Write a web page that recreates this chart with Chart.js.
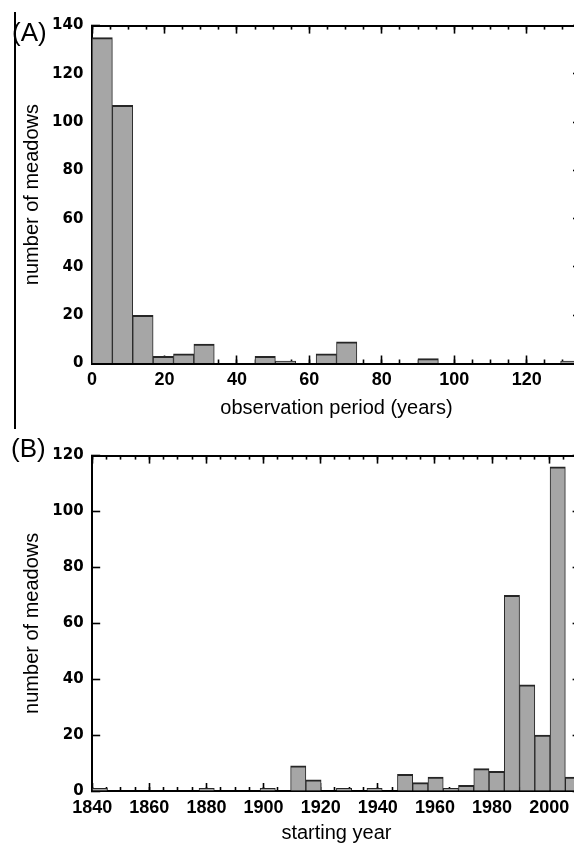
<!DOCTYPE html>
<html>
<head>
<meta charset="utf-8">
<script src="https://cdn.jsdelivr.net/npm/chart.js@4.4.1/dist/chart.umd.min.js"></script>
<style>
html,body{margin:0;padding:0;background:#fff;overflow:hidden;width:574px;height:845px;}
#wrapA{position:absolute;left:0;top:0;width:620px;height:430px;}
#wrapB{position:absolute;left:0;top:430px;width:620px;height:415px;}
.panel{position:absolute;font-family:'Liberation Sans',Arial,sans-serif;font-size:26px;line-height:26px;color:#000;white-space:nowrap;}
#rule{position:absolute;left:14px;top:12px;width:1.5px;height:417px;background:#000;}
</style>
</head>
<body>
<div id="wrapA"><canvas id="chartA" width="620" height="430"></canvas></div>
<div id="wrapB"><canvas id="chartB" width="620" height="415"></canvas></div>
<div id="rule"></div>
<div class="panel" style="left:12px;top:18.5px">(A)</div>
<div class="panel" style="left:11px;top:434.5px">(B)</div>
<script>
// ---- Panel A: observation period histogram ----
const periodBinCenters = [2.8125, 8.4375, 14.0625, 19.6875, 25.3125, 30.9375, 36.5625, 42.1875,
  47.8125, 53.4375, 59.0625, 64.6875, 70.3125, 75.9375, 81.5625, 87.1875, 92.8125, 98.4375,
  104.0625, 109.6875, 115.3125, 120.9375, 126.5625, 132.1875];
const periodCounts = [135, 107, 20, 3, 4, 8, 0, 0, 3, 1, 0, 4, 9, 0, 0, 0, 2, 0, 0, 0, 0, 0, 0, 1];
const periodTicks = [0, 20, 40, 60, 80, 100, 120];
const countTicksA = [0, 20, 40, 60, 80, 100, 120, 140];

// ---- Panel B: starting year histogram ----
const yearBinCenters = [1842.671875, 1848.015625, 1853.359375, 1858.703125, 1864.046875, 1869.390625,
  1874.734375, 1880.078125, 1885.421875, 1890.765625, 1896.109375, 1901.453125, 1906.796875,
  1912.140625, 1917.484375, 1922.828125, 1928.171875, 1933.515625, 1938.859375, 1944.203125,
  1949.546875, 1954.890625, 1960.234375, 1965.578125, 1970.921875, 1976.265625, 1981.609375,
  1986.953125, 1992.296875, 1997.640625, 2002.984375, 2008.328125];
const yearCounts = [1, 0, 0, 0, 0, 0, 0, 1, 0, 0, 0, 1, 0, 9, 4, 0, 1, 0, 1, 0, 6, 3, 5, 1, 2, 8, 7, 70, 38, 20, 116, 5];
const yearTicks = [1840, 1860, 1880, 1900, 1920, 1940, 1960, 1980, 2000];
const countTicksB = [0, 20, 40, 60, 80, 100, 120];

const LIB = "'Liberation Sans', Arial, sans-serif";
const DJV = "'DejaVu Sans', Verdana, sans-serif";

function tickSetter(arr) {
  return (scale) => { scale.ticks = arr.map(v => ({ value: v })); };
}

function makeChart(canvasId, c) {
  const gridMajor = { display: true, offset: false, drawOnChartArea: false, drawTicks: true,
    tickLength: -8, tickWidth: 1.6, tickColor: '#000' };
  const gridMinor = { display: true, offset: false, drawOnChartArea: false, drawTicks: true,
    tickLength: -4, tickWidth: 1.6, tickColor: '#000' };
  const borderOn = { display: true, color: '#000', width: 2 };
  return new Chart(document.getElementById(canvasId), {
    type: 'bar',
    data: {
      datasets: [{
        data: c.centers.map((x, i) => ({ x: x, y: c.counts[i] })),
        backgroundColor: '#a6a6a6',
        borderColor: '#262626',
        borderWidth: { top: 2, left: 1, right: 1, bottom: 0 },
        borderSkipped: false,
        barPercentage: 1,
        categoryPercentage: 1
      }]
    },
    options: {
      responsive: false,
      animation: false,
      events: [],
      layout: { padding: { left: 0, top: c.padTop, right: c.padRight, bottom: c.padBottom } },
      plugins: { legend: { display: false }, tooltip: { enabled: false } },
      scales: {
        x: {
          type: 'linear', axis: 'x', position: 'bottom', min: c.xMin, max: c.xMax,
          offset: false, weight: 1,
          afterBuildTicks: tickSetter(c.xTicks),
          afterFit: (s) => { s.height = c.xHeight; },
          ticks: { autoSkip: false, maxRotation: 0, minRotation: 0, padding: 14, color: '#000',
            callback: (v) => String(v),
            font: { family: LIB, weight: 'bold', size: 18 } },
          grid: gridMajor,
          border: borderOn,
          title: { display: true, text: c.xTitle, color: '#000',
            font: { family: LIB, size: 20, weight: 'normal' }, padding: { top: 0, bottom: 0 } }
        },
        xMinor: {
          type: 'linear', axis: 'x', position: 'bottom', min: c.xMin, max: c.xMax,
          offset: false, weight: 0,
          afterFit: (s) => { s.height = 0; },
          ticks: { display: false, stepSize: 5, includeBounds: false },
          grid: gridMinor,
          border: { display: false }
        },
        xTop: {
          type: 'linear', axis: 'x', position: 'top', min: c.xMin, max: c.xMax,
          offset: false, weight: 0,
          afterBuildTicks: tickSetter(c.xTicks),
          afterFit: (s) => { s.height = 0; },
          ticks: { display: false },
          grid: gridMajor,
          border: borderOn
        },
        xTopMinor: {
          type: 'linear', axis: 'x', position: 'top', min: c.xMin, max: c.xMax,
          offset: false, weight: 1,
          afterFit: (s) => { s.height = 0; },
          ticks: { display: false, stepSize: 5, includeBounds: false },
          grid: gridMinor,
          border: { display: false }
        },
        y: {
          type: 'linear', axis: 'y', position: 'left', min: 0, max: c.yMax,
          afterBuildTicks: tickSetter(c.yTicks),
          afterFit: (s) => { s.width = c.yWidth; },
          ticks: { padding: 16.6, color: '#000', callback: (v) => String(v),
            font: { family: DJV, weight: 'bold', size: 15 } },
          grid: gridMajor,
          border: borderOn,
          title: { display: true, text: 'number of meadows', color: '#000',
            font: { family: LIB, size: 20, weight: 'normal' }, padding: { top: 20, bottom: 0 } }
        },
        yRight: {
          type: 'linear', axis: 'y', position: 'right', min: 0, max: c.yMax,
          afterBuildTicks: tickSetter(c.yTicks),
          afterFit: (s) => { s.width = 0; },
          ticks: { display: false },
          grid: gridMajor,
          border: borderOn
        }
      }
    }
  });
}

makeChart('chartA', {
  centers: periodBinCenters, counts: periodCounts,
  xMin: 0, xMax: 135, xTicks: periodTicks,
  yMax: 140, yTicks: countTicksA,
  xTitle: 'observation period (years)',
  padTop: 23.5, padRight: 39, padBottom: 10, xHeight: 56.5, yWidth: 92
});

makeChart('chartB', {
  centers: yearBinCenters, counts: yearCounts,
  xMin: 1840, xMax: 2011, xTicks: yearTicks,
  yMax: 120, yTicks: countTicksB,
  xTitle: 'starting year',
  padTop: 20, padRight: 39.4, padBottom: 0, xHeight: 54, yWidth: 92.2
});
</script>
</body>
</html>
